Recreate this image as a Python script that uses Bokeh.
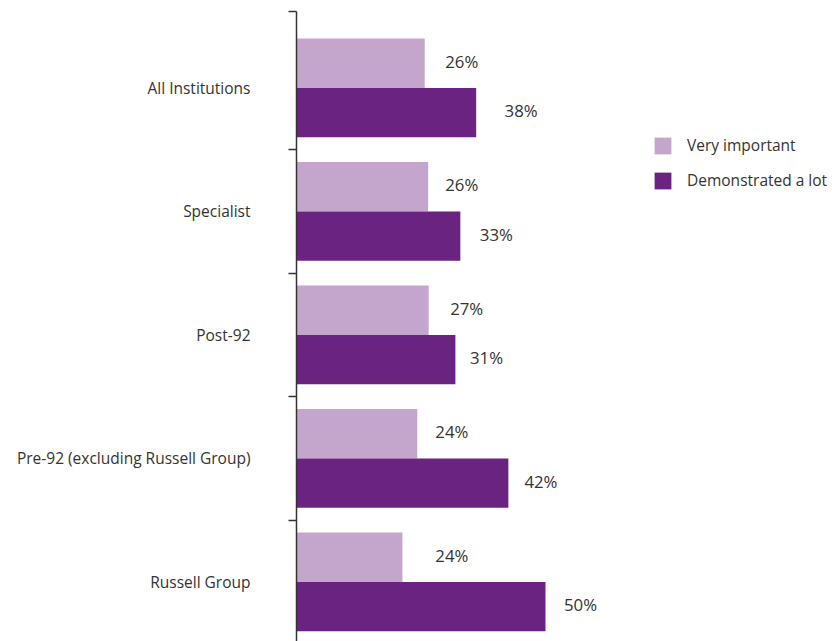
import numpy as np
from bokeh.plotting import figure
from bokeh.models import ColumnDataSource, Range1d, FixedTicker, Legend, LegendItem
from bokeh.core.properties import value
from bokeh.embed import file_html
from bokeh.resources import INLINE

# ---- data ----
categories = ["All Institutions", "Specialist", "Post-92",
              "Pre-92 (excluding Russell Group)", "Russell Group"]
very_important = [25.9, 26.6, 26.7, 24.4, 21.4]          # bar lengths as drawn
demonstrated_a_lot = [36.3, 33.1, 32.1, 42.8, 50.3]      # bar lengths as drawn
very_important_labels = ["26%", "26%", "27%", "24%", "24%"]
demonstrated_a_lot_labels = ["38%", "33%", "31%", "42%", "50%"]
series_names = ["Very important", "Demonstrated a lot"]

LIGHT = "#C4A6CC"
DARK = "#6A2380"
TEXT = "#333333"
FONT = "Open Sans"
FS = "15.5px"
FS_VAL = "16.8px"

idx = np.arange(len(categories))
src = ColumnDataSource(dict(
    y_light=idx - 0.2,
    y_dark=idx + 0.2,
    vi=very_important,
    da=demonstrated_a_lot,
    vi_text=very_important_labels,
    da_text=demonstrated_a_lot_labels,
    vi_pos=[float(s.rstrip("%")) for s in very_important_labels],
    da_pos=[float(s.rstrip("%")) for s in demonstrated_a_lot_labels],
))

px_per_unit = 4.95
W, H = 832, 641
BL, BT = 296, 11
frame_w = W - BL

p = figure(width=W, height=H, output_backend="svg", toolbar_location=None,
           x_range=Range1d(0, frame_w / px_per_unit),
           y_range=Range1d(4.482, -0.619),
           x_axis_location=None,
           min_border_left=BL, min_border_right=0,
           min_border_top=BT, min_border_bottom=0)
p.outline_line_color = None
p.xgrid.visible = False
p.ygrid.visible = False
p.background_fill_color = "white"
p.border_fill_color = "white"

r1 = p.hbar(y="y_light", left=0, right="vi", height=0.4, source=src,
            fill_color=LIGHT, line_color=None)
r2 = p.hbar(y="y_dark", left=0, right="da", height=0.4, source=src,
            fill_color=DARK, line_color=None)

p.text(x="vi_pos", y="y_light", text="vi_text", source=src, x_offset=20,
       y_offset=-2,
       text_align="left", text_baseline="middle", text_font=value(FONT),
       text_font_size=value(FS_VAL), text_color=TEXT)
p.text(x="da_pos", y="y_dark", text="da_text", source=src, x_offset=20,
       y_offset=-2,
       text_align="left", text_baseline="middle", text_font=value(FONT),
       text_font_size=value(FS_VAL), text_color=TEXT)

yaxis = p.yaxis[0]
yaxis.ticker = FixedTicker(ticks=list(idx.astype(float)),
                           minor_ticks=[-0.615, 0.5, 1.5, 2.5, 3.5])
yaxis.major_label_overrides = {int(i): c for i, c in zip(idx, categories)}
yaxis.major_tick_out = 0
yaxis.major_tick_in = 0
yaxis.minor_tick_out = 8
yaxis.minor_tick_in = 0
yaxis.minor_tick_line_color = TEXT
yaxis.minor_tick_line_width = 1.5
yaxis.axis_line_color = TEXT
yaxis.axis_line_width = 1.5
yaxis.major_label_standoff = 38
yaxis.major_label_text_font = FONT
yaxis.major_label_text_font_size = FS
yaxis.major_label_text_color = TEXT

legend = Legend(items=[LegendItem(label=series_names[0], renderers=[r1]),
                       LegendItem(label=series_names[1], renderers=[r2])],
                location=(356, 450), glyph_width=21, glyph_height=21,
                label_standoff=14, spacing=13, padding=0, margin=0,
                label_height=21,
                border_line_color=None, background_fill_alpha=0,
                label_text_font=FONT, label_text_font_size=FS,
                label_text_color=TEXT)
p.add_layout(legend)

open("out.html", "w").write(file_html(p, INLINE))
